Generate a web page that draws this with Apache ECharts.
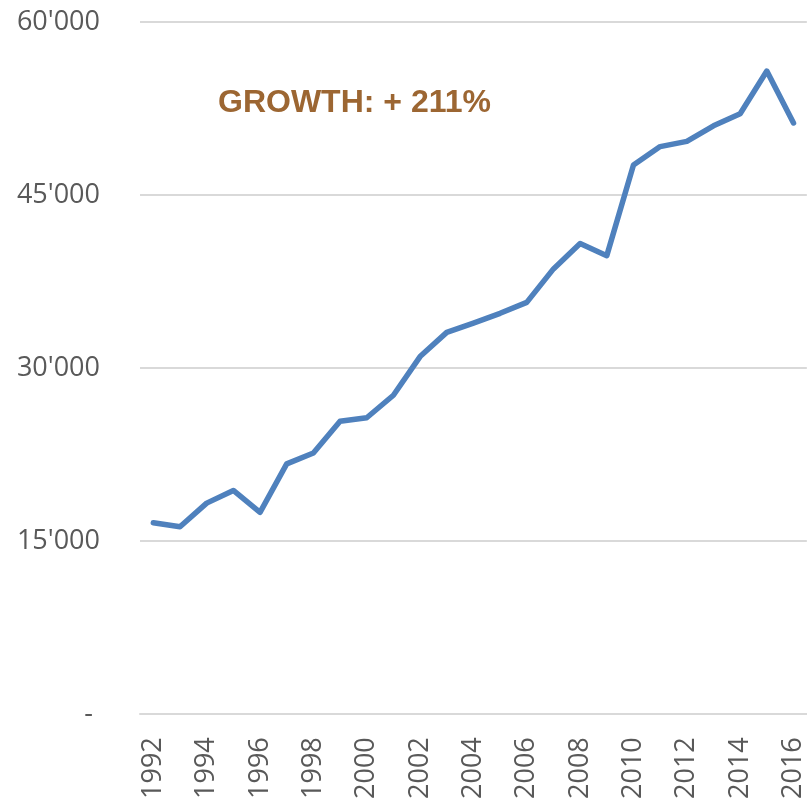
<!DOCTYPE html>
<html>
<head>
<meta charset="utf-8">
<script src="https://cdn.jsdelivr.net/npm/echarts@6/dist/echarts.min.js"></script>
<style>
  html, body { margin: 0; padding: 0; background: #fff; }
  #chart { width: 807px; height: 802px; }
</style>
</head>
<body>
<div id="chart"></div>
<script>
const years = ['1992','1993','1994','1995','1996','1997','1998','1999','2000','2001','2002','2003','2004',
  '2005','2006','2007','2008','2009','2010','2011','2012','2013','2014','2015','2016'];
const values = [16600, 16250, 18300, 19400, 17500, 21700, 22650, 25400, 25700, 27650, 31000, 33100, 33900,
  34750, 35700, 38600, 40800, 39750, 47600, 49200, 49650, 51000, 52050, 55750, 51250];
const yTicks = [0, 15000, 30000, 45000, 60000];
const growthLabel = 'GROWTH: + 211%';

const textColor = '#595959'
const lineColor = '#D9D9D9'

function fmt(v){
  if (v === 0) return '-\u00a0';
  return String(v).replace(/\B(?=(\d{3})+(?!\d))/g, "'");
}

const myChart = echarts.init(document.getElementById('chart'));
const option = {
  animation: false,
  title: {
    text: growthLabel,
    left: 213,
    top: 82,
    textStyle: {
      color: '#9C6632',
      fontFamily: 'Liberation Sans',
      fontWeight: 'bold',
      fontSize: 32
    }
  },
  grid: { left: 140, right: 0, top: 22, bottom: 85 },
  xAxis: {
    type: 'category',
    data: years,
    boundaryGap: true,
    axisLine: { lineStyle: { color: lineColor, width: 2 } },
    axisTick: { show: false },
    axisLabel: {
      interval: 1,
      rotate: 90,
      margin: 23,
      color: textColor,
      fontFamily: 'Open Sans',
      fontSize: 27
    }
  },
  yAxis: {
    type: 'value',
    min: yTicks[0],
    max: yTicks[yTicks.length - 1],
    interval: 15000,
    axisLine: { show: false },
    axisTick: { show: false },
    splitLine: { lineStyle: { color: lineColor, width: 2 } },
    axisLabel: {
      margin: 40,
      color: textColor,
      fontFamily: 'Open Sans',
      fontSize: 27,
      formatter: fmt
    }
  },
  series: [{
    type: 'line',
    data: values,
    symbol: 'none',
    lineStyle: { color: '#4F81BD', width: 5.5, cap: 'round', join: 'round' }
  }]
};
myChart.setOption(option);
</script>
</body>
</html>
